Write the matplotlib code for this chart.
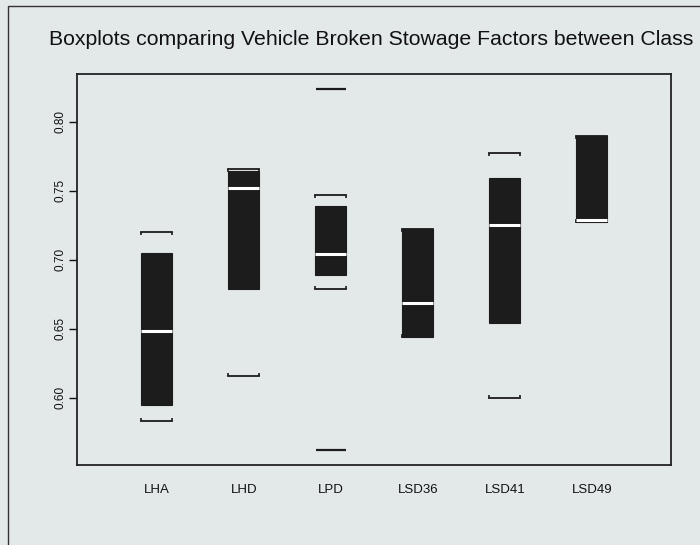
import matplotlib
matplotlib.use('Agg')
from matplotlib import pyplot as plt
from matplotlib.patches import Rectangle
import numpy as np

# summary values
classes = ['LHA', 'LHD', 'LPD', 'LSD36', 'LSD41', 'LSD49']
whis_lo = [0.583, 0.616, 0.679, 0.644, 0.600, 0.727]
q1 = [0.595, 0.679, 0.689, 0.644, 0.654, 0.727]
medians = [0.648, 0.752, 0.704, 0.669, 0.725, 0.729]
q3 = [0.705, 0.764, 0.739, 0.722, 0.759, 0.790]
whis_hi = [0.720, 0.766, 0.747, 0.722, 0.7775, 0.790]
outliers = [[], [], [0.824, 0.562], [], [], []]

bg = '#e3e8e8'
dark = '#1c1c1c'

plt.rcParams['font.family'] = ['Liberation Sans', 'DejaVu Sans']

fig = plt.figure(figsize=(7, 5.45), dpi=100, facecolor=bg)
ax = fig.add_axes([0.1093, 0.1477, 0.9581 - 0.1093, 0.8642 - 0.1477])
ax.set_facecolor(bg)

stats = []
for i, name in enumerate(classes):
    stats.append({'label': name, 'med': medians[i], 'q1': q1[i], 'q3': q3[i],
                  'whislo': whis_lo[i], 'whishi': whis_hi[i],
                  'fliers': outliers[i]})

pos = np.arange(1, len(classes) + 1)
w = 0.355
ax.bxp(stats, positions=pos, widths=w, patch_artist=True, capwidths=w,
       boxprops=dict(facecolor=dark, edgecolor=dark, linewidth=0.8),
       medianprops=dict(color='white', linewidth=2.2, solid_capstyle='butt'),
       whiskerprops=dict(linewidth=0),
       capprops=dict(color=dark, linewidth=1.3),
       flierprops=dict(marker='_', markersize=22, markeredgewidth=1.6,
                       markeredgecolor=dark))

# little bracket ends on the whisker caps
tick = 0.0022
for i, p in enumerate(pos):
    xs = [p - w / 2, p + w / 2]
    ax.vlines(xs, whis_hi[i] - tick, whis_hi[i], color=dark, linewidth=1.2)
    ax.vlines(xs, whis_lo[i], whis_lo[i] + tick, color=dark, linewidth=1.2)

ax.set_xlim(0.077, 6.906)
ax.set_ylim(0.5516, 0.8346)
ax.set_yticks([0.60, 0.65, 0.70, 0.75, 0.80])
ax.set_yticklabels(['0.60', '0.65', '0.70', '0.75', '0.80'], rotation=90,
                   va='center', fontsize=8.5)
ax.set_xticks(pos)
ax.set_xticklabels(classes, fontsize=9.5)
ax.tick_params(axis='x', length=0, pad=14, colors='#111111')
ax.tick_params(axis='y', length=6, width=1, pad=1, colors='#111111',
               direction='out')
for s in ax.spines.values():
    s.set_color('#222222')
    s.set_linewidth(1.3)

fig.text(49 / 700, 1 - 39 / 545,
         'Boxplots comparing Vehicle Broken Stowage Factors between Class',
         fontsize=15.3, va='center', ha='left', color='#111111')

# outer frame of the scanned page
fig.patches.append(Rectangle((7.5 / 700, -0.05), 1.1, 1 - 6 / 545 + 0.05,
                             transform=fig.transFigure, fill=False,
                             edgecolor='#333333', linewidth=1.0))

fig.savefig('out.png', dpi=100, facecolor=bg)
